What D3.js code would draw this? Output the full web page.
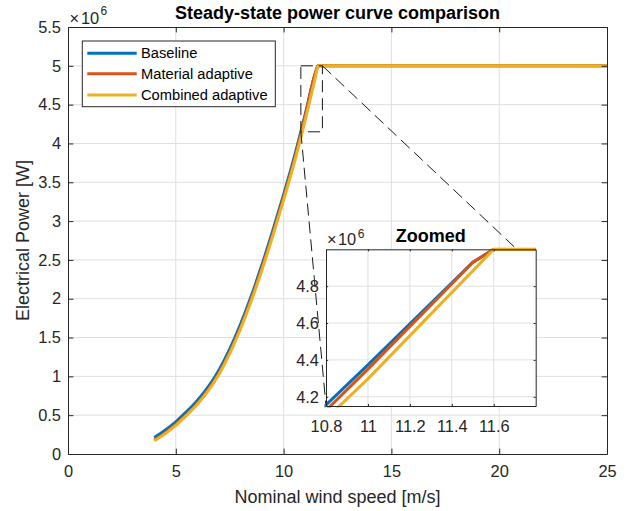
<!DOCTYPE html>
<html><head><meta charset="utf-8">
<script src="https://cdn.jsdelivr.net/npm/d3@7"></script>
<style>
body{margin:0;background:#fff}
text{font-family:"Liberation Sans",Arial,Helvetica,sans-serif;fill:#262626}
</style>
</head><body>
<svg id="chart" width="630" height="511"></svg>
<script>
// ---------- data ----------
const windSpeed = [4,4.5,5,5.5,6,6.5,7,7.5,8,8.5,9,9.5,10,10.5,11,11.5,11.6,12,13,14,15,16,17,18,19,20,21,22,23,24,25];
const baselinePower = [0.21e6,0.305e6,0.415e6,0.545e6,0.69e6,0.865e6,1.08e6,1.35e6,1.67e6,2.035e6,2.44e6,2.878e6,3.34e6,3.83e6,4.373e6,4.93e6,5.0e6,5.0e6,5.0e6,5.0e6,5.0e6,5.0e6,5.0e6,5.0e6,5.0e6,5.0e6,5.0e6,5.0e6,5.0e6,5.0e6,5.0e6];
const materialPower = [0.18e6,0.272e6,0.38e6,0.508e6,0.652e6,0.826e6,1.04e6,1.31e6,1.63e6,1.995e6,2.40e6,2.838e6,3.30e6,3.79e6,4.35e6,4.929e6,5.0e6,5.0e6,5.0e6,5.0e6,5.0e6,5.0e6,5.0e6,5.0e6,5.0e6,5.0e6,5.0e6,5.0e6,5.0e6,5.0e6,5.0e6];
const combinedPower = [0.17e6,0.262e6,0.37e6,0.497e6,0.64e6,0.813e6,1.025e6,1.293e6,1.61e6,1.972e6,2.374e6,2.81e6,3.27e6,3.755e6,4.297e6,4.883e6,5.0e6,5.0e6,5.0e6,5.0e6,5.0e6,5.0e6,5.0e6,5.0e6,5.0e6,5.0e6,5.0e6,5.0e6,5.0e6,5.0e6,5.0e6];
const seriesNames = ["Baseline","Material adaptive","Combined adaptive"];
const seriesColors = ["#0072BD","#D95319","#EDB120"];
const xTicks = [0,5,10,15,20,25];
const yTicks = [0,0.5e6,1e6,1.5e6,2e6,2.5e6,3e6,3.5e6,4e6,4.5e6,5e6,5.5e6];
const xDomain = [0,25];
const yDomain = [0,5.5e6];
const zoomX = [10.8,11.8];
const zoomY = [4.15e6,5.0e6];
const insetXTicks = [10.8,11,11.2,11.4,11.6];
const insetYTicks = [4.2e6,4.4e6,4.6e6,4.8e6];
const connectorEnd = [11.697,5.014e6]; // where the upper guide line meets the inset

const titleText = "Steady-state power curve comparison";
const xLabel = "Nominal wind speed [m/s]";
const yLabel = "Electrical Power [W]";
const insetTitle = "Zoomed";

// ---------- layout ----------
const svg = d3.select("#chart");
svg.append("rect").attr("width",630).attr("height",511).attr("fill","#fff");
const M = {l:68, r:607, t:27, b:454};
const IN = {l:326, r:535.7, t:249.3, b:406};
const tickFont = "16.4px";
const axisColor = "#262626";
const gridColor = "#dfdfdf";

const x = d3.scaleLinear().domain(xDomain).range([M.l,M.r]);
const y = d3.scaleLinear().domain(yDomain).range([M.b,M.t]);
const xi = d3.scaleLinear().domain(zoomX).range([IN.l,IN.r]);
const yi = d3.scaleLinear().domain(zoomY).range([IN.b,IN.t]);

const series = [baselinePower, materialPower, combinedPower].map((p,i)=>({
  name: seriesNames[i], color: seriesColors[i],
  pts: windSpeed.map((v,j)=>[v,p[j]])
}));

function styleAxis(g){
  g.selectAll("path.domain").attr("stroke",axisColor).attr("stroke-width",1);
  g.selectAll(".tick line").attr("stroke",axisColor).attr("stroke-width",1);
  g.selectAll(".tick text").attr("fill",axisColor).style("font-size",tickFont)
    .style("font-family",'"Liberation Sans",Arial,sans-serif');
}
function fmtMega(t){ return String(+(t/1e6).toFixed(3)); }

// ---------- main grid ----------
const grid = svg.append("g");
grid.selectAll("line.gx").data(xTicks.filter(t=>t>xDomain[0]&&t<xDomain[1])).enter().append("line")
  .attr("x1",d=>x(d)).attr("x2",d=>x(d)).attr("y1",M.t).attr("y2",M.b)
  .attr("stroke",gridColor).attr("stroke-width",1);
grid.selectAll("line.gy").data(yTicks.filter(t=>t>yDomain[0]&&t<yDomain[1])).enter().append("line")
  .attr("y1",d=>y(d)).attr("y2",d=>y(d)).attr("x1",M.l).attr("x2",M.r)
  .attr("stroke",gridColor).attr("stroke-width",1);

// ---------- main curves ----------
svg.append("clipPath").attr("id","mainClip").append("rect")
  .attr("x",M.l).attr("y",M.t-2).attr("width",M.r-M.l).attr("height",M.b-M.t+4);
const line = d3.line().x(d=>x(d[0])).y(d=>y(d[1])).curve(d3.curveMonotoneX);
svg.append("g").attr("clip-path","url(#mainClip)").selectAll("path").data(series).enter().append("path")
  .attr("d",d=>line(d.pts)).attr("fill","none").attr("stroke",d=>d.color)
  .attr("stroke-width",3).attr("stroke-linejoin","round");

// ---------- main axes ----------
const ax = svg.append("g").attr("transform",`translate(0,${M.b})`)
  .call(d3.axisBottom(x).tickValues(xTicks).tickFormat(d3.format("d")).tickSizeInner(-5.4).tickSizeOuter(0).tickPadding(11));
styleAxis(ax);
const axTop = svg.append("g").attr("transform",`translate(0,${M.t})`)
  .call(d3.axisTop(x).tickValues(xTicks).tickFormat("").tickSizeInner(-5.4).tickSizeOuter(0));
styleAxis(axTop);
const ay = svg.append("g").attr("transform",`translate(${M.l},0)`)
  .call(d3.axisLeft(y).tickValues(yTicks).tickFormat(fmtMega).tickSizeInner(-5.4).tickSizeOuter(0).tickPadding(7));
styleAxis(ay);
const ayR = svg.append("g").attr("transform",`translate(${M.r},0)`)
  .call(d3.axisRight(y).tickValues(yTicks).tickFormat("").tickSizeInner(-5.4).tickSizeOuter(0));
styleAxis(ayR);

// exponent label
const ex = svg.append("text").attr("y",24).style("font-size",tickFont);
ex.append("tspan").attr("x",69.5).text("\u00d7");
ex.append("tspan").attr("x",81).text("10");
svg.append("text").attr("x",100.5).attr("y",15).style("font-size","12px").text("6");

// titles
svg.append("text").attr("x",(M.l+M.r)/2).attr("y",18.5).attr("text-anchor","middle")
  .style("font-size","18px").style("font-weight","bold").style("fill","#000").text(titleText);
svg.append("text").attr("x",(M.l+M.r)/2).attr("y",503).attr("text-anchor","middle")
  .style("font-size","18px").text(xLabel);
svg.append("text").attr("transform",`translate(28.5,${(M.t+M.b)/2}) rotate(-90)`).attr("text-anchor","middle")
  .style("font-size","18px").text(yLabel);

// ---------- legend ----------
const lg = svg.append("g");
lg.append("rect").attr("x",82.3).attr("y",41).attr("width",193).attr("height",65.7)
  .attr("fill","#fff").attr("stroke",axisColor).attr("stroke-width",1);
const rowsY = [53.3,73.7,95];
series.forEach((s,i)=>{
  lg.append("line").attr("x1",87.3).attr("x2",136.7).attr("y1",rowsY[i]).attr("y2",rowsY[i])
    .attr("stroke",s.color).attr("stroke-width",3);
  lg.append("text").attr("x",141).attr("y",rowsY[i]).attr("dy","0.35em")
    .style("font-size","14.7px").style("fill","#000").text(s.name);
});

// ---------- zoom rectangle and connectors ----------
const dash = "12,6";
svg.append("rect").attr("x",x(zoomX[0])).attr("y",y(zoomY[1]))
  .attr("width",x(zoomX[1])-x(zoomX[0])).attr("height",y(zoomY[0])-y(zoomY[1]))
  .attr("fill","none").attr("stroke","#1a1a1a").attr("stroke-width",1).attr("stroke-dasharray",dash);
svg.append("line").attr("x1",x(zoomX[0])).attr("y1",y(zoomY[0])).attr("x2",xi(zoomX[0])).attr("y2",yi(zoomY[0]))
  .attr("stroke","#1a1a1a").attr("stroke-width",1).attr("stroke-dasharray",dash);
svg.append("line").attr("x1",x(zoomX[1])).attr("y1",y(zoomY[1])).attr("x2",xi(connectorEnd[0])).attr("y2",yi(connectorEnd[1]))
  .attr("stroke","#1a1a1a").attr("stroke-width",1).attr("stroke-dasharray",dash);

// ---------- inset ----------
const ins = svg.append("g");
ins.append("rect").attr("x",IN.l).attr("y",IN.t).attr("width",IN.r-IN.l).attr("height",IN.b-IN.t).attr("fill","#fff");
ins.selectAll("line.gx").data(insetXTicks.filter(t=>t>zoomX[0]&&t<zoomX[1])).enter().append("line")
  .attr("x1",d=>xi(d)).attr("x2",d=>xi(d)).attr("y1",IN.t).attr("y2",IN.b)
  .attr("stroke",gridColor).attr("stroke-width",1);
ins.selectAll("line.gy").data(insetYTicks.filter(t=>t>zoomY[0]&&t<zoomY[1])).enter().append("line")
  .attr("y1",d=>yi(d)).attr("y2",d=>yi(d)).attr("x1",IN.l).attr("x2",IN.r)
  .attr("stroke",gridColor).attr("stroke-width",1);
svg.append("clipPath").attr("id","insClip").append("rect")
  .attr("x",IN.l-1.5).attr("y",IN.t-1.5).attr("width",IN.r-IN.l+1.5).attr("height",IN.b-IN.t+3);
const lineI = d3.line().x(d=>xi(d[0])).y(d=>yi(d[1]));
ins.append("g").attr("clip-path","url(#insClip)").selectAll("path").data(series).enter().append("path")
  .attr("d",d=>lineI(d.pts)).attr("fill","none").attr("stroke",d=>d.color)
  .attr("stroke-width",3).attr("stroke-linejoin","round");

const iax = ins.append("g").attr("transform",`translate(0,${IN.b})`)
  .call(d3.axisBottom(xi).tickValues(insetXTicks).tickFormat(d=>String(d)).tickSizeInner(-2.1).tickSizeOuter(0).tickPadding(14));
styleAxis(iax);
const iaxT = ins.append("g").attr("transform",`translate(0,${IN.t})`)
  .call(d3.axisTop(xi).tickValues(insetXTicks).tickFormat("").tickSizeInner(-2.1).tickSizeOuter(0));
styleAxis(iaxT);
const iay = ins.append("g").attr("transform",`translate(${IN.l},0)`)
  .call(d3.axisLeft(yi).tickValues(insetYTicks).tickFormat(fmtMega).tickSizeInner(-2.1).tickSizeOuter(0).tickPadding(7));
styleAxis(iay);
const iayR = ins.append("g").attr("transform",`translate(${IN.r},0)`)
  .call(d3.axisRight(yi).tickValues(insetYTicks).tickFormat("").tickSizeInner(-2.1).tickSizeOuter(0));
styleAxis(iayR);

const iex = ins.append("text").attr("y",245).style("font-size",tickFont);
iex.append("tspan").attr("x",327).text("\u00d7");
iex.append("tspan").attr("x",338).text("10");
ins.append("text").attr("x",357.8).attr("y",238).style("font-size","12px").text("6");
ins.append("text").attr("x",(IN.l+IN.r)/2).attr("y",241.7).attr("text-anchor","middle")
  .style("font-size","18px").style("font-weight","bold").style("fill","#000").text(insetTitle);
</script>
</body></html>
